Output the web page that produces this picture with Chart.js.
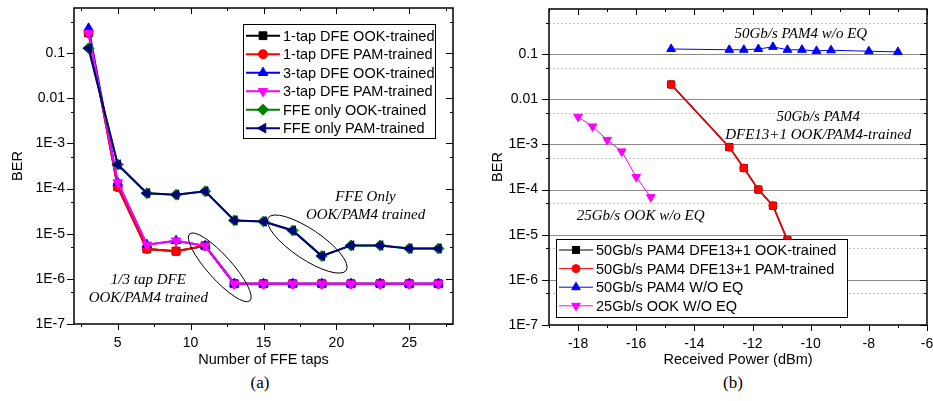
<!DOCTYPE html>
<html>
<head>
<meta charset="utf-8">
<script src="https://cdn.jsdelivr.net/npm/chart.js@4.4.1/dist/chart.umd.min.js"></script>
<style>
  html, body { margin: 0; padding: 0; background: #fff; }
  body { width: 933px; height: 401px; position: relative; overflow: hidden; }
  #chartA { position: absolute; left: 0; top: 0; }
  #chartB { position: absolute; left: 466px; top: 0; }
  .cap { position: absolute; top: 373px; width: 60px; text-align: center;
         font: 17px "Liberation Serif", "Times New Roman", serif; color: #000; }
</style>
</head>
<body>
<canvas id="chartA" width="466" height="372"></canvas>
<canvas id="chartB" width="467" height="372"></canvas>
<div class="cap" style="left:230px">(a)</div>
<div class="cap" style="left:703px">(b)</div>
<script>
// ---- (a) BER vs number of FFE taps ----
const taps = [3, 5, 7, 9, 11, 13, 15, 17, 19, 21, 23, 25, 27];
const dfe1Ook = [0.28, 1.1e-4, 4.6e-6, 4.1e-6, 5.4e-6, 7.8e-7, 7.8e-7, 7.8e-7, 7.8e-7, 7.8e-7, 7.8e-7, 7.8e-7, 7.8e-7];
const dfe1Pam = [0.28, 1.07e-4, 4.6e-6, 4.1e-6, 5.4e-6, 7.8e-7, 7.8e-7, 7.8e-7, 7.8e-7, 7.8e-7, 7.8e-7, 7.8e-7, 7.8e-7];
const dfe3Ook = [0.355, 1.36e-4, 5.7e-6, 7.0e-6, 5.4e-6, 7.8e-7, 7.8e-7, 7.8e-7, 7.8e-7, 7.8e-7, 7.8e-7, 7.8e-7, 7.8e-7];
const dfe3Pam = [0.28, 1.36e-4, 5.7e-6, 7.0e-6, 5.4e-6, 7.8e-7, 7.8e-7, 7.8e-7, 7.8e-7, 7.8e-7, 7.8e-7, 7.8e-7, 7.8e-7];
const ffeOok = [0.128, 3.4e-4, 7.9e-5, 7.3e-5, 8.7e-5, 1.97e-5, 1.87e-5, 1.18e-5, 3.2e-6, 5.5e-6, 5.5e-6, 4.7e-6, 4.7e-6];
const ffePam = [0.128, 3.4e-4, 7.9e-5, 7.3e-5, 8.7e-5, 1.97e-5, 1.87e-5, 1.18e-5, 3.2e-6, 5.5e-6, 5.5e-6, 4.7e-6, 4.7e-6];
const tapTicks = [5, 10, 15, 20, 25];
const tapMinor = [2.5, 7.5, 12.5, 17.5, 22.5, 27.5];

// ---- (b) BER vs received power ----
const powerDfe = [-14.8, -12.8, -12.3, -11.8, -11.3, -10.8];
const dfeOokB = [0.0213, 8.7e-4, 3.0e-4, 1.0e-4, 4.4e-5, 7.6e-6];
const dfePamB = [0.0213, 8.7e-4, 3.0e-4, 1.0e-4, 4.4e-5, 7.6e-6];
const powerPamNoEq = [-14.8, -12.8, -12.3, -11.8, -11.3, -10.8, -10.3, -9.8, -9.3, -8, -7];
const pamNoEq = [0.13, 0.125, 0.125, 0.13, 0.145, 0.125, 0.125, 0.118, 0.122, 0.116, 0.112];
const powerOok = [-18, -17.5, -17, -16.5, -16, -15.5];
const ookNoEq = [4.1e-3, 2.5e-3, 1.26e-3, 7.0e-4, 1.9e-4, 6.8e-5];
const powerTicks = [-18, -16, -14, -12, -10, -8, -6];
const powerMinor = [-19, -17, -15, -13, -11, -9, -7];

// shared log axis
const berTicks = [1e-7, 1e-6, 1e-5, 1e-4, 1e-3, 1e-2, 0.1];
const berLabels = ['1E-7', '1E-6', '1E-5', '1E-4', '1E-3', '0.01', '0.1'];
const berMinor = [5e-7, 5e-6, 5e-5, 5e-4, 5e-3, 0.05, 0.5];

Chart.defaults.color = '#000';
Chart.defaults.font.family = '"Liberation Sans", Arial, sans-serif';
Chart.defaults.font.size = 14;

const SANS = '"Liberation Sans", Arial, sans-serif';
const SERIF_IT = 'italic 15px "Liberation Serif", "Times New Roman", serif';

const pts = (xs, ys) => xs.map((x, i) => ({ x, y: ys[i] }));

function series(label, xs, ys, color, style, rot, radius, width, order) {
  return {
    label, data: pts(xs, ys), order,
    borderColor: color, backgroundColor: color,
    pointBackgroundColor: color, pointBorderColor: color,
    pointStyle: style, pointRotation: rot, pointRadius: radius,
    pointBorderWidth: 1, borderWidth: width, tension: 0
  };
}

// Origin-like frame, ticks, grid, notes and legend box
function makeDecor(cfg) {
  const seg = (ctx, x1, y1, x2, y2) => { ctx.beginPath(); ctx.moveTo(x1, y1); ctx.lineTo(x2, y2); ctx.stroke(); };
  return {
    id: 'decor',
    beforeDatasetsDraw(chart) {
      if (!cfg.grid) return;
      const { ctx, chartArea: a, scales: { y } } = chart;
      ctx.save();
      ctx.lineWidth = 1;
      ctx.strokeStyle = '#8a8a8a';
      berTicks.forEach(v => {
        const p = Math.round(y.getPixelForValue(v)) + 0.5;
        if (p > a.top + 2 && p < a.bottom - 2) seg(ctx, a.left, p, a.right, p);
      });
      ctx.strokeStyle = '#c4c4c4';
      ctx.setLineDash([2, 2]);
      berMinor.forEach(v => {
        const p = Math.round(y.getPixelForValue(v)) + 0.5;
        if (p > a.top + 2 && p < a.bottom - 2) seg(ctx, a.left, p, a.right, p);
      });
      ctx.restore();
    },
    afterDatasetsDraw(chart) {
      const { ctx, chartArea: a, scales: { x, y } } = chart;
      ctx.save();
      ctx.beginPath();
      ctx.rect(a.left, a.top, a.right - a.left, a.bottom - a.top);
      ctx.clip();
      ctx.fillStyle = '#000';
      ctx.font = SERIF_IT;
      ctx.textAlign = 'center';
      ctx.textBaseline = 'middle';
      cfg.notes.forEach(n => ctx.fillText(n.text, x.getPixelForValue(n.x), y.getPixelForValue(n.y)));
      ctx.strokeStyle = '#000';
      ctx.lineWidth = 1;
      (cfg.ellipses || []).forEach(e => {
        ctx.beginPath();
        ctx.ellipse(x.getPixelForValue(e.x), y.getPixelForValue(e.y), e.rx, e.ry, e.angle * Math.PI / 180, 0, Math.PI * 2);
        ctx.stroke();
      });
      ctx.restore();
    },
    afterDraw(chart) {
      const { ctx, chartArea: a, scales: { x, y } } = chart;
      ctx.save();
      ctx.strokeStyle = '#000';
      // ticks: left/bottom outward, top/right inward
      ctx.lineWidth = 1;
      const xt = (vals, len) => vals.forEach(v => {
        const p = Math.round(x.getPixelForValue(v)) + 0.5;
        seg(ctx, p, a.bottom, p, a.bottom + len);
        seg(ctx, p, a.top, p, a.top + len);
      });
      const yt = (vals, len) => vals.forEach(v => {
        const p = Math.round(y.getPixelForValue(v)) + 0.5;
        seg(ctx, a.left, p, a.left - len, p);
        seg(ctx, a.right, p, a.right - len, p);
      });
      xt(cfg.xMajor, 6); xt(cfg.xMinor, 3);
      yt(berTicks, 7); yt(berMinor, 3);
      ctx.lineWidth = 1.5;
      ctx.strokeRect(a.left, a.top, a.right - a.left, a.bottom - a.top);

      // legend box
      const L = cfg.legend;
      const lx = a.left + L.dx, ly = a.top + L.dy;
      ctx.fillStyle = '#fff';
      ctx.fillRect(lx, ly, L.w, L.h);
      ctx.lineWidth = 1;
      ctx.strokeRect(lx + 0.5, ly + 0.5, L.w, L.h);
      ctx.font = '14.5px ' + SANS;
      ctx.textAlign = 'left';
      ctx.textBaseline = 'middle';
      chart.data.datasets.forEach((ds, i) => {
        const cy = ly + L.first + i * L.rowH;
        ctx.strokeStyle = ds.borderColor;
        ctx.lineWidth = L.lineW;
        seg(ctx, lx + 3, cy, lx + 37, cy);
        ctx.fillStyle = ds.pointBackgroundColor;
        ctx.lineWidth = 1;
        Chart.helpers.drawPoint(ctx, { pointStyle: ds.pointStyle, rotation: ds.pointRotation, radius: ds.pointRadius * L.mScale, borderWidth: 1 }, lx + 20, cy);
        ctx.fillStyle = '#000';
        ctx.fillText(ds.label, lx + 40, cy + 1);
      });
      ctx.restore();
    }
  };
}

function makeChart(id, datasets, opt) {
  return new Chart(document.getElementById(id), {
    type: 'line',
    data: { datasets },
    plugins: [makeDecor(opt.decor)],
    options: {
      responsive: false,
      animation: false,
      events: [],
      layout: { padding: opt.padding },
      plugins: { legend: { display: false }, tooltip: { enabled: false } },
      scales: {
        x: {
          type: 'linear', min: opt.xMin, max: opt.xMax,
          grid: { display: false, drawTicks: false }, border: { display: false },
          afterBuildTicks: s => { s.ticks = opt.decor.xMajor.map(v => ({ value: v })); },
          afterFit: s => { s.height = opt.xHeight; s.paddingLeft = 0; s.paddingRight = 0; },
          ticks: { padding: opt.xTickPad, autoSkip: false, maxRotation: 0, callback: v => String(v) },
          title: { display: true, text: opt.xTitle, font: { size: 14.5 }, padding: { top: 0, bottom: 3 } }
        },
        y: {
          type: 'logarithmic', min: 1e-7, max: 1,
          grid: { display: false, drawTicks: false }, border: { display: false },
          afterBuildTicks: s => { s.ticks = berTicks.map(v => ({ value: v })); },
          afterFit: s => { s.width = opt.yWidth; s.paddingTop = 0; s.paddingBottom = 0; },
          ticks: { padding: opt.yTickPad, autoSkip: false, callback: (v, i) => berLabels[i] },
          title: { display: true, text: 'BER', font: { size: 14.5 }, padding: { top: opt.yTitlePad, bottom: 0 } }
        }
      }
    }
  });
}

makeChart('chartA', [
  series('1-tap DFE OOK-trained', taps, dfe1Ook, '#000000', 'rect', 0, 5.5, 2, 6),
  series('1-tap DFE PAM-trained', taps, dfe1Pam, '#ff0000', 'circle', 0, 4.5, 2, 5),
  series('3-tap DFE OOK-trained', taps, dfe3Ook, '#0000ff', 'triangle', 0, 5.5, 2, 4),
  series('3-tap DFE PAM-trained', taps, dfe3Pam, '#ff00ff', 'triangle', 180, 5.5, 2, 3),
  series('FFE only OOK-trained', taps, ffeOok, '#008000', 'rectRot', 0, 5.5, 2, 2),
  series('FFE only PAM-trained', taps, ffePam, '#000080', 'triangle', -90, 5.5, 2, 1)
], {
  padding: { left: 0, top: 8, right: 13, bottom: 0 },
  xMin: 2, xMax: 28, xHeight: 48, xTickPad: 11, yWidth: 74, yTickPad: 9, yTitlePad: 9,
  xTitle: 'Number of FFE taps',
  decor: {
    grid: false, xMajor: tapTicks, xMinor: tapMinor,
    notes: [
      { text: 'FFE Only', x: 22, y: 6.5e-5 },
      { text: 'OOK/PAM4 trained', x: 22, y: 2.6e-5 },
      { text: '1/3 tap DFE', x: 7.1, y: 9.6e-7 },
      { text: 'OOK/PAM4 trained', x: 7.1, y: 3.8e-7 }
    ],
    ellipses: [
      { x: 12, y: 1.8e-6, rx: 45, ry: 12, angle: 48 },
      { x: 18, y: 5.9e-6, rx: 47, ry: 15, angle: 34 }
    ],
    legend: { dx: 169, dy: 16, w: 192, h: 114, first: 11.7, rowH: 18.5, lineW: 2, mScale: 1 }
  }
});

makeChart('chartB', [
  series('50Gb/s PAM4 DFE13+1 OOK-trained', powerDfe, dfeOokB, '#000000', 'rect', 0, 5, 1.5, 3),
  series('50Gb/s PAM4 DFE13+1 PAM-trained', powerDfe, dfePamB, '#ff0000', 'circle', 0, 4, 1.5, 2),
  series('50Gb/s PAM4 W/O EQ', powerPamNoEq, pamNoEq, '#0000ff', 'triangle', 0, 5, 1, 1),
  series('25Gb/s OOK W/O EQ', powerOok, ookNoEq, '#ff00ff', 'triangle', 180, 5, 1, 4)
], {
  padding: { left: 0, top: 9, right: 5, bottom: 0 },
  xMin: -19, xMax: -6, xHeight: 47, xTickPad: 11, yWidth: 83, yTickPad: 11, yTitlePad: 23,
  xTitle: 'Received Power (dBm)',
  decor: {
    grid: true, xMajor: powerTicks, xMinor: powerMinor,
    notes: [
      { text: '50Gb/s PAM4 w/o EQ', x: -10.34, y: 0.285 },
      { text: '50Gb/s PAM4', x: -9.74, y: 4.1e-3 },
      { text: 'DFE13+1 OOK/PAM4-trained', x: -9.74, y: 1.63e-3 },
      { text: '25Gb/s OOK w/o EQ', x: -15.85, y: 2.57e-5 }
    ],
    legend: { dx: 7, dy: 230, w: 291, h: 78, first: 11, rowH: 18.6, lineW: 1, mScale: 1 }
  }
});
</script>
</body>
</html>
